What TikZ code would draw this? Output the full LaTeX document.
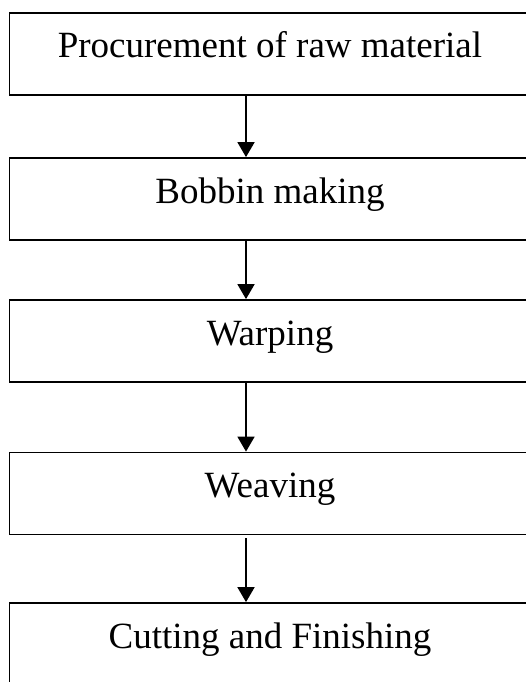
\documentclass[tikz,border=0pt]{standalone}
\usepackage{fontspec}
\setmainfont{Liberation Serif}
\usetikzlibrary{arrows.meta}

\tikzset{
  stagebox/.style={draw=black, line width=1.8pt, minimum width=521pt, minimum height=82pt,
    inner xsep=0pt, inner ysep=0pt, text height=28pt, text depth=20pt,
    font=\fontsize{37}{44}\selectfont},
  flowline/.style={draw=black, line width=1.8pt, -{Triangle[width=17pt,length=15pt]}}
}

\begin{document}
\begin{tikzpicture}[x=1pt,y=-1pt]
\useasboundingbox (0,0) rectangle (526,682);
\clip (0,0) rectangle (526,682);
% stages
\node[stagebox] (procure) at (270,54) {Procurement of raw material};
\node[stagebox] (bobbin) at (270,199) {Bobbin making};
\node[stagebox] (warp) at (270,341) {Warping};
\node[stagebox] (weave) at (270,493.5) {Weaving};
\node[stagebox] (finish) at (270,644) {Cutting and Finishing};
% arrows
\draw[flowline] ([xshift=-24pt]procure.south) -- ([xshift=-24pt]bobbin.north);
\draw[flowline] ([xshift=-24pt]bobbin.south) -- ([xshift=-24pt]warp.north);
\draw[flowline] ([xshift=-24pt]warp.south) -- ([xshift=-24pt]weave.north);
\draw[flowline, shorten <=3pt] ([xshift=-24pt]weave.south) -- ([xshift=-24pt]finish.north);
\end{tikzpicture}
\end{document}
